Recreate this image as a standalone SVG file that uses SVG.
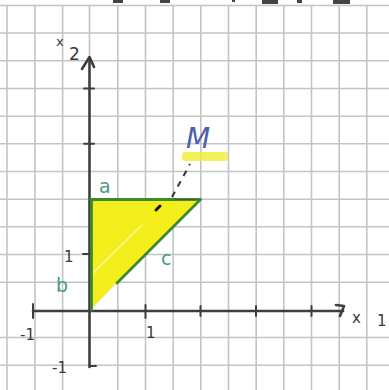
<svg xmlns="http://www.w3.org/2000/svg" width="389" height="390" viewBox="0 0 389 390">
<style>
.grid{stroke:#c4c4c4;stroke-width:1.6;fill:none}
.ax{stroke:#3e3e3e;stroke-width:2.6;fill:none;stroke-linecap:round;stroke-linejoin:round}
.tk{stroke:#3e3e3e;stroke-width:2;fill:none;stroke-linecap:round}
.edge{stroke:#3d8a2c;stroke-width:2.8;fill:none;stroke-linecap:round}
.hand{font-family:"DejaVu Sans",sans-serif;fill:#3a3a3a}
.lab{font-family:"DejaVu Sans",sans-serif;fill:#4a9a7e}
</style>
<rect width="389" height="390" fill="#ffffff"/>
<g id="top-fragments" fill="#444">
<rect x="113" y="0" width="10" height="3"/>
<rect x="160" y="0" width="10" height="3"/>
<rect x="232" y="0" width="3" height="2"/>
<rect x="262" y="0" width="16" height="4"/>
<rect x="297" y="0" width="5" height="3"/>
<rect x="333" y="0" width="17" height="4"/>
</g>
<g id="grid" class="grid">
<path d="M7 5V390M35 5V390M62.6 5V390M117.8 5V390M145.5 5V390M173.2 5V390M200.8 5V390M228.5 5V390M256.2 5V390M283.8 5V390M311.5 5V390M339.2 5V390M366.8 5V390"/>
<path d="M0 5.5H389M0 33H389M0 60.8H389M0 88.5H389M0 116.2H389M0 143.8H389M0 171.5H389M0 199.2H389M0 226.8H389M0 254.5H389M0 282.2H389M0 337.5H389M0 365.2H389"/>
<path d="M89.5 5V57"/>
</g>
<g id="triangle">
<polygon points="90,199.5 200.5,199.5 90,311" fill="#f4ee1c"/>
<path d="M93 273 L142 225" stroke="#fbf8b0" stroke-width="1.2" fill="none"/>
<path d="M117 283 L90 311" stroke="#f2f2e8" stroke-width="1.4" fill="none"/>
</g>
<g id="axes">
<path class="ax" d="M33 311 H343"/>
<path class="ax" d="M336 305 L344 306 L340 316"/>
<path class="ax" d="M89.5 367 V58"/>
<path class="ax" d="M82 69 L89.5 57 L94 67"/>
<path class="tk" d="M33 304V318M145.5 305V318M200.5 306V316M256 306V316M311.5 306V316"/>
<path class="tk" d="M84 88.5H94M84 143.8H94M83 254H90M89.5 366H96"/>
</g>
<g id="edges">
<path class="edge" d="M90.5 199.5 H175"/>
<path d="M175 199.5 H200.5" stroke="#2f6a2a" stroke-width="2.6" fill="none"/>
<path class="edge" d="M200.5 199.5 L117 283"/>
<path class="edge" d="M91.5 200 V310"/>
</g>
<g id="labels">
<text class="hand" x="56" y="46" font-size="13">x</text>
<text class="hand" x="69" y="60" font-size="17">2</text>
<text class="hand" x="352" y="323" font-size="15">x</text>
<text class="hand" x="377" y="326" font-size="15">1</text>
<text class="hand" x="64" y="262" font-size="15">1</text>
<text class="hand" x="20" y="340" font-size="15">-1</text>
<text class="hand" x="146" y="338" font-size="15">1</text>
<text class="hand" x="52" y="373" font-size="15">-1</text>
<text class="lab" x="99" y="193" font-size="19">a</text>
<text class="lab" x="56" y="292" font-size="19">b</text>
<text class="lab" x="161" y="265" font-size="19">c</text>
</g>
<g id="pointM">
<rect x="182" y="152" width="46" height="9" rx="3" fill="#f0ee40" opacity="0.85"/>
<path d="M156 210 L160 206" stroke="#111" stroke-width="3" stroke-linecap="round"/>
<text x="186" y="148" font-family="DejaVu Sans,sans-serif" font-size="28" font-style="italic" fill="#5060a8">M</text>
</g>
<g id="connectors">
<path d="M172 197 L190 164" stroke="#333" stroke-width="2" stroke-dasharray="6 6" fill="none"/>
</g>
</svg>
